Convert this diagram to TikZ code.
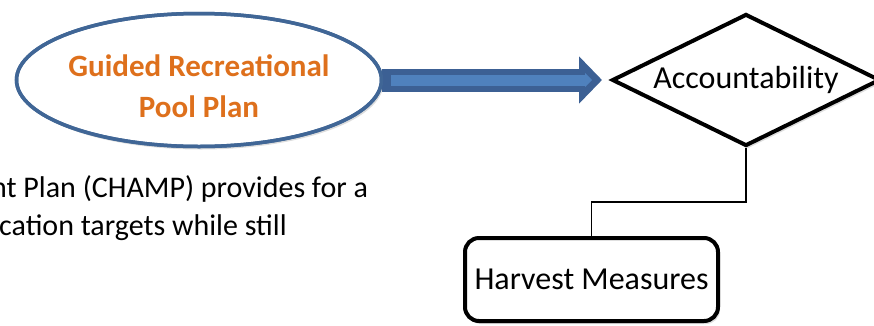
\documentclass[tikz,border=0pt]{standalone}
\usepackage{fontspec}
\setmainfont{Carlito}
\usetikzlibrary{shapes.geometric,shadows,arrows.meta}
\definecolor{ellblue}{RGB}{64,102,150}
\definecolor{arrdark}{RGB}{60,96,148}
\definecolor{arrlight}{RGB}{79,129,189}
\definecolor{orangetxt}{RGB}{222,112,28}
\tikzset{
  softshadow/.style={drop shadow={shadow xshift=2pt,shadow yshift=-3pt,opacity=.22,fill=black!60}},
  planell/.style={ellipse,draw=ellblue,line width=3.5pt,fill=white,softshadow,
    minimum width=365pt,minimum height=133pt,inner sep=0pt},
  plantext/.style={inner sep=0pt,align=center,
    font=\fontsize{31}{41}\selectfont\bfseries,text=orangetxt},
  decision/.style={diamond,draw=black,line width=4pt,fill=white,softshadow,aspect=2,
    minimum width=268pt,minimum height=132pt,inner sep=0pt,font=\fontsize{32}{38}\selectfont},
  measurebox/.style={rectangle,rounded corners=14pt,draw=black,line width=4pt,fill=white,softshadow,
    minimum width=253pt,minimum height=83pt,inner sep=0pt,font=\fontsize{32}{38}\selectfont},
  bodytext/.style={anchor=base west,inner sep=0pt,font=\fontsize{30}{38}\selectfont},
  link/.style={draw=black,line width=1.8pt}
}
\begin{document}
\begin{tikzpicture}[x=1pt,y=-1pt]
\useasboundingbox (0,0) rectangle (874,325);
\node[planell] (ell) at (199,80) {};
\node[decision] (dia) at (746,80) {Accountability};
\node[measurebox] (box) at (591.5,279.5) {Harvest Measures};
\coordinate (turn) at (660,202);
\draw[link] (dia.south) |- (turn) -| (box.north);
\draw[arrdark,line width=23pt,shorten <=-1pt,shorten >=8pt,-{Triangle[width=46pt,length=23pt]}] (ell.east) -- (dia.west);
\draw[arrlight,line width=11pt,shorten <=8pt,shorten >=18pt,-{Triangle[width=14pt,length=7pt]}] (ell.east) -- (dia.west);
\draw[ellblue,line width=3.5pt] (ell.center) ellipse[x radius=182.5pt,y radius=66.5pt];
\node[plantext] (elltext) at (199,86) {Guided Recreational\\Pool Plan};
\node[bodytext] (line1) at (-9,197) {nt Plan (CHAMP) provides for a};
\node[bodytext] (line2) at (-1,235) {cation targets while still};
\end{tikzpicture}
\end{document}
